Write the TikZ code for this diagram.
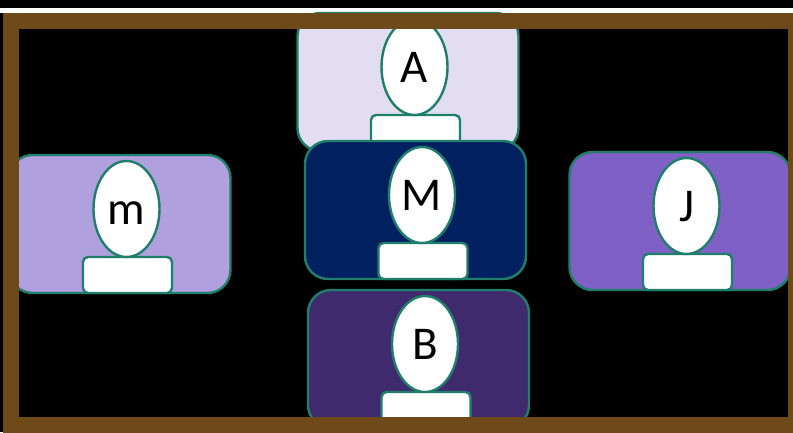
\documentclass[tikz,border=0pt]{standalone}
\usepackage{fontspec}
\setmainfont{Carlito}
\usetikzlibrary{calc}
\usetikzlibrary{shapes.geometric}
\definecolor{rim}{HTML}{1F7F6B}
\definecolor{wood}{HTML}{6E4A1A}
\definecolor{cardA}{HTML}{E3DDF2}
\definecolor{cardM}{HTML}{002060}
\definecolor{cardm}{HTML}{B0A0DE}
\definecolor{cardJ}{HTML}{7F60C4}
\definecolor{cardB}{HTML}{3F2A6E}
\tikzstyle{card}=[rectangle,rounded corners=23pt,draw=rim,line width=2.4pt,minimum width=221pt,minimum height=138pt,inner sep=0pt,outer sep=0pt]
\tikzstyle{head}=[ellipse,fill=white,draw=rim,line width=2.4pt,minimum width=66pt,minimum height=96pt,inner sep=0pt,outer sep=0pt,text height=31pt,text depth=0pt,font=\fontsize{47}{47}\selectfont]
\tikzstyle{body}=[rectangle,rounded corners=5pt,fill=white,draw=rim,line width=2.4pt,minimum width=89pt,minimum height=36pt,inner sep=0pt,outer sep=0pt]

\begin{document}
\begin{tikzpicture}[x=1pt,y=-1pt]

  \useasboundingbox (0,0) rectangle (793,432);
  \fill[black] (0,0) rectangle (793,432);
  \fill[white] (0,8) rectangle (793,13);

  \foreach \x/\y/\name/\label in { 408/82/A/A, 120/224/m/m, 680/221/J/J, 415.5/210/M/M, 418.5/359/B/B}
  {
    \node[card,fill=card\name] (card\name) at (\x, \y) {};
    \node[body,anchor=south] (body\name) at ($(card\name.south)+(7.5,0)$) {};
    \node[head,anchor=south] (head\name) at ($(body\name.north)+(-1,0)$) {\label};
  }

  \draw[wood,line width=16pt] (11,20.5) rectangle (796,424.5);

\end{tikzpicture}
\end{document}
